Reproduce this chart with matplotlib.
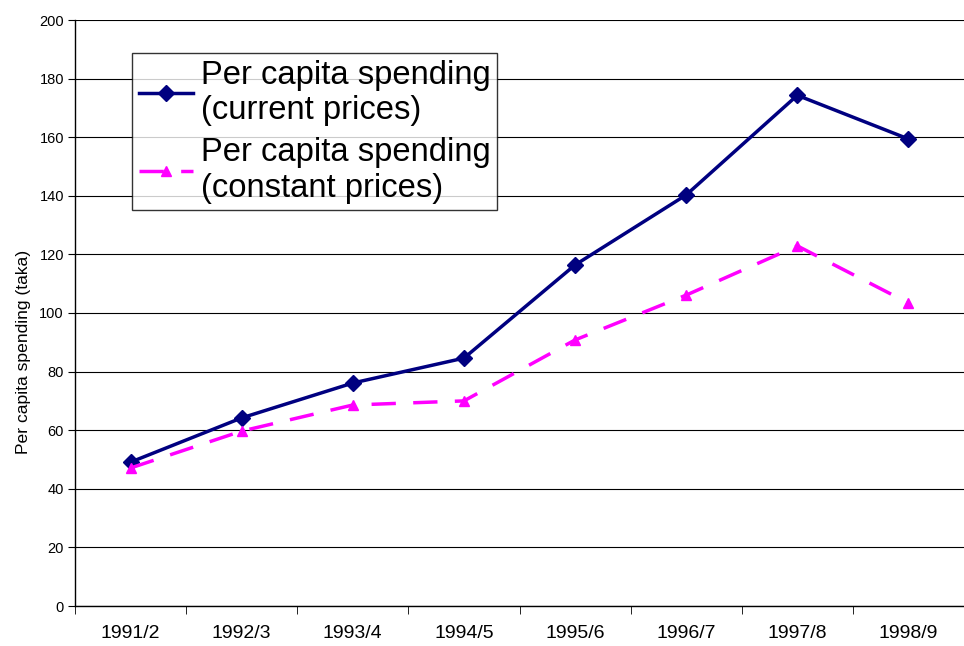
"""Per capita spending chart, current vs constant prices."""

import matplotlib

matplotlib.use("Agg")
import matplotlib.pyplot as plt
import numpy as np

years = ["1991/2", "1992/3", "1993/4", "1994/5", "1995/6", "1996/7", "1997/8", "1998/9"]
current_prices = [49.1, 64.2, 76.1, 84.6, 116.4, 140.3, 174.3, 159.4]
constant_prices = [47.1, 59.7, 68.6, 70.0, 90.8, 106.1, 122.9, 103.4]
y_ticks = list(range(0, 201, 20))

plt.rcParams["font.family"] = ["Liberation Sans", "DejaVu Sans"]

fig = plt.figure(figsize=(9.64, 6.46), dpi=100)
ax = fig.add_axes([75 / 964, 40 / 646, 889 / 964, 586 / 646])

x = np.arange(len(years))
ax.plot(x, current_prices, color="#000080", lw=2.5, marker="D", ms=8.5,
        label="Per capita spending\n(current prices)", zorder=3)
ax.plot(x, constant_prices, color="#FF00FF", lw=2.5, marker="^", ms=6.5,
        dashes=(7, 5), label="Per capita spending\n(constant prices)", zorder=3)

ax.set_xlim(-0.5, len(years) - 0.5)
ax.set_ylim(0, 200)
ax.set_yticks(y_ticks)
ax.tick_params(axis="y", labelsize=10.5, length=5, direction="out", pad=3)
ax.set_xticks(x)
ax.set_xticklabels(years)
ax.set_xticks(np.arange(len(years) + 1) - 0.5, minor=True)
ax.tick_params(axis="x", which="major", length=0, labelsize=14, pad=14)
ax.tick_params(axis="x", which="minor", length=6, direction="out")

ax.yaxis.grid(True, color="#000000", lw=0.8)
ax.set_axisbelow(True)
for side in ("top", "right"):
    ax.spines[side].set_visible(False)
for side in ("left", "bottom"):
    ax.spines[side].set_color("black")
    ax.spines[side].set_linewidth(1.0)

ax.set_ylabel("Per capita spending (taka)", fontsize=12.6)
ax.yaxis.set_label_coords(-0.0495, 0.433)

leg = ax.legend(loc="upper left", bbox_to_anchor=(132 / 964, 1 - 53 / 646),
                bbox_transform=fig.transFigure, borderaxespad=0,
                fontsize=23.6, frameon=True, fancybox=False, handlelength=1.65,
                handletextpad=0.26, labelspacing=0.36, borderpad=0.2)
leg.get_frame().set_edgecolor("black")
leg.get_frame().set_linewidth(1.0)
for text in leg.get_texts():
    text.set_linespacing(1.17)

fig.savefig("out.png", dpi=100)
